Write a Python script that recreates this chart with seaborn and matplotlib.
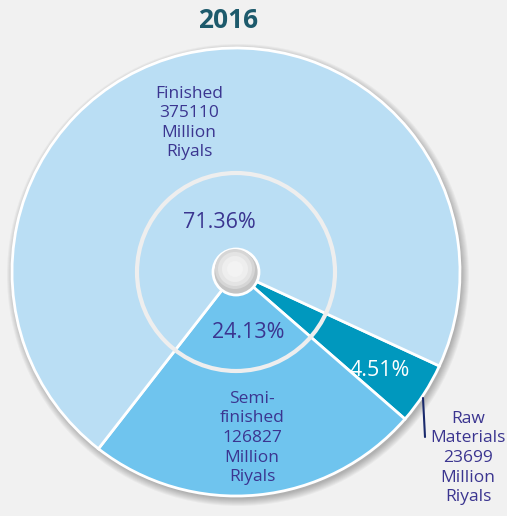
import numpy as np
import matplotlib.pyplot as plt
import matplotlib.patches as mpatches
import seaborn as sns

# ── Data ──────────────────────────────────────────────────────────────────────
categories = ["Raw Materials", "Semi-finished", "Finished"]
values = [23699, 126827, 375110]
shares = ["4.51%", "24.13%", "71.36%"]
value_labels = ["Raw\nMaterials\n23699\nMillion\nRiyals",
                "Semi-\nfinished\n126827\nMillion\nRiyals",
                "Finished\n375110\nMillion\nRiyals"]
colors = ["#0098be", "#6fc4ee", "#badef4"]
year = "2016"

# ── Style ─────────────────────────────────────────────────────────────────────
sns.set_theme(style="white")
plt.rcParams["font.family"] = ["Open Sans", "DejaVu Sans"]
BG = "#f1f1f1"
TXT = "#3b3590"

W, H = 507, 516
fig = plt.figure(figsize=(W / 100, H / 100), dpi=100, facecolor=BG)
ax = fig.add_axes([0, 0, 1, 1])
ax.set_facecolor(BG)
ax.set_xlim(0, W)
ax.set_ylim(0, H)
ax.set_aspect("equal")
ax.axis("off")


def py(y):
    """pixel row (from top) -> data y"""
    return H - y


cx, cy, R = 236, py(272), 224

# soft drop shadow
for k in range(8):
    ax.add_patch(mpatches.Circle((cx + 2, cy - 3), R + 7 - k, color="#000000",
                                 alpha=0.035, lw=0, zorder=1))

wedges, _ = ax.pie(values, colors=colors, startangle=-24.8, counterclock=False,
                   center=(cx, cy), radius=R,
                   wedgeprops=dict(edgecolor="white", linewidth=2))
for w in wedges:
    w.set_zorder(2)
ax.set_xlim(0, W)
ax.set_ylim(0, H)

# inner ring
ax.add_patch(mpatches.Circle((cx, cy), 99, fill=False, edgecolor="#eeeeee",
                             lw=3, zorder=3))
# center knob
ax.add_patch(mpatches.Circle((cx, cy), 23, facecolor="#c4c4c4",
                             edgecolor="white", lw=2, zorder=4))
for r, c in [(20, "#d6d6d6"), (17, "#e4e4e4"), (13, "#eeeeee"), (8, "#f3f3f3")]:
    ax.add_patch(mpatches.Circle((cx - 1, cy + 3), r, facecolor=c, lw=0, zorder=5))

# texts
ax.text(228, py(20), year, ha="center", va="center", fontsize=19,
        fontweight="bold", color="#1d5a6c", zorder=6)
ax.text(189, py(123), value_labels[2], ha="center", va="center", fontsize=12.5,
        color=TXT, linespacing=1.3, zorder=6)
ax.text(219, py(223), shares[2], ha="center", va="center", fontsize=15.5,
        color=TXT, zorder=6)
ax.text(248, py(333), shares[1], ha="center", va="center", fontsize=15.5,
        color=TXT, zorder=6)
ax.text(252, py(438), value_labels[1], ha="center", va="center", fontsize=12.5,
        color=TXT, linespacing=1.3, zorder=6)
ax.text(380, py(371), shares[0], ha="center", va="center", fontsize=15.5,
        color="white", zorder=6)
ax.text(468, py(458), value_labels[0], ha="center", va="center", fontsize=12.5,
        color=TXT, linespacing=1.3, zorder=6)
ax.plot([423, 425], [py(398), py(437)], color="#1a2a6c", lw=1.5, zorder=6)

fig.savefig("out.png", dpi=100, facecolor=BG)
